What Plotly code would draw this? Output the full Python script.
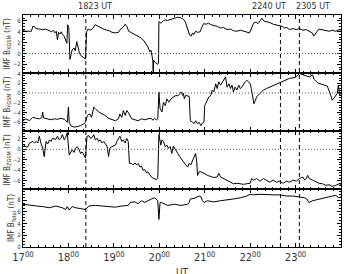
import plotly.graph_objects as go
from plotly.subplots import make_subplots

# time in minutes after 17:00 UT
bx_t = [0, 4, 11, 13, 15, 17, 22, 26, 30, 35, 38, 40, 42, 44, 45.5, 47, 49, 50.5, 52, 54, 56.5, 58, 59, 60.5, 62, 63.5, 65, 67.5, 69, 71, 72.5, 74.5, 76.5, 78.5, 81, 82.5, 84, 86, 89, 92, 95.5, 99, 102.5, 106.5, 110.5, 114, 117.5, 122, 126, 129, 132, 135, 137.5, 139.5, 142.5, 146, 149.5, 153, 156.5, 160, 163, 165, 167.5, 169, 170.5, 171.5, 172, 172.5, 174, 176, 178, 179, 179.5, 182, 185, 188, 191, 195.5, 200, 204.5, 208.5, 212, 214.5, 216, 218, 220, 222, 224, 225.5, 228, 230.5, 234, 236, 238.5, 242, 245, 248.5, 252, 256.5, 261, 265, 269.5, 274, 278, 282.5, 287, 291, 295.5, 299, 302, 304.5, 308, 310.5, 314, 315.5, 318, 321.5, 326, 330.5, 335, 339, 342.5, 345.5, 348.5, 352, 356.5, 361, 365, 369.5, 374, 378, 382, 384, 386, 388, 391, 395.5, 400, 404.5, 408.5, 413, 417.5, 420]
bx_v = [4.2, 4.1, 4.1, 5.0, 5.0, 4.6, 4.5, 4.4, 4.5, 4.2, 4.0, 4.3, 3.8, 4.1, 2.5, 3.9, 3.6, 4.0, 3.5, 3.3, 2.2, 1.9, 5.3, 4.8, -1.1, -0.2, 0.7, 1.0, 0.5, 2.2, 1.0, 0.1, -0.4, -0.6, -0.8, -1.0, 4.0, 4.5, 4.3, 4.6, 5.3, 5.0, 4.7, 4.5, 4.3, 4.2, 3.9, 3.8, 3.9, 4.5, 4.8, 5.4, 4.9, 4.1, 3.9, 3.6, 3.4, 3.1, 2.8, 2.3, 1.7, 1.2, 0.3, 0.6, -0.5, -1.4, -4.5, -1.2, -1.6, -1.9, -2.0, -1.8, 5.9, 5.6, 6.0, 6.2, 6.1, 6.3, 6.5, 6.7, 6.6, 6.3, 5.8, 5.0, 4.2, 3.4, 3.2, 3.8, 3.5, 4.1, 3.9, 4.0, 4.8, 5.5, 5.4, 5.6, 5.3, 5.2, 5.0, 4.7, 4.8, 4.4, 4.5, 4.2, 4.1, 4.3, 4.1, 4.0, 3.8, 4.7, 5.6, 5.8, 5.5, 6.2, 6.5, 6.0, 5.9, 5.7, 5.4, 5.3, 5.1, 5.0, 4.7, 4.8, 4.4, 4.6, 4.4, 4.6, 4.3, 4.4, 4.1, 3.8, 3.2, 3.5, 4.0, 4.5, 4.4, 4.3, 4.1, 4.3, 4.1, 4.4, 4.3]

by_t = [0, 4, 8.5, 13, 17.5, 22, 25, 26, 27, 32.5, 37, 41.5, 45.5, 50, 54.5, 56.5, 58.5, 60, 61, 63, 67.5, 71.5, 76, 80.5, 82.5, 85, 88, 90.5, 93.5, 95.5, 100, 104.5, 108.5, 113, 117.5, 122, 126, 128, 130.5, 132.5, 135, 137, 139, 141.5, 143.5, 148, 152, 156.5, 161, 165, 169.5, 171.5, 174, 176, 178, 179.5, 181, 183.5, 185.5, 188, 190, 192.5, 195.5, 199, 202, 204.5, 207.5, 209, 211, 212, 213, 215, 219.5, 221, 224, 226, 228, 230.5, 232.5, 235, 237, 239, 240, 243.5, 245.5, 248, 250, 252, 254.5, 256.5, 258.5, 261, 265, 267.5, 269.5, 272, 274, 276, 278, 280, 282.5, 285, 287, 289, 293.5, 295.5, 298, 300, 301.5, 303.5, 305, 307, 308.5, 313, 317.5, 321.5, 326, 330.5, 335, 339, 343.5, 348, 352, 356.5, 361, 365, 369.5, 374, 378, 382.5, 384.5, 389, 393.5, 398, 402, 406.5, 408.5, 411, 413, 415, 416.5, 418, 420]
by_v = [-5.7, -5.3, -5.7, -5.0, -5.2, -5.3, -5.0, -3.9, -5.1, -5.3, -5.5, -5.3, -5.4, -5.2, -5.4, -5.7, -6.0, -2.9, -6.0, -6.7, -7.0, -6.9, -6.7, -6.3, -6.0, -4.6, -4.3, -5.0, -2.9, -3.2, -3.9, -4.3, -4.6, -5.2, -5.4, -5.7, -5.3, -4.3, -5.0, -3.6, -4.6, -3.6, -4.0, -4.6, -5.3, -5.5, -5.7, -5.3, -5.5, -5.3, -5.2, -5.6, -5.2, -5.5, -5.3, 0.2, -3.2, -3.9, -1.9, -2.6, -1.2, -1.9, -1.2, -0.8, -0.5, -0.6, -0.1, 0.2, -0.5, -0.1, -1.2, -0.5, -0.7, -5.7, -6.0, -6.3, -5.7, -6.3, -6.0, -6.7, -6.2, -6.0, -2.6, -1.5, -0.8, -0.5, 0.6, 0.2, 1.9, 0.9, 2.3, 1.6, 2.6, 3.3, 1.2, 1.9, 0.9, 1.6, 0.2, 1.2, 0.6, 1.6, 0.9, 1.2, 2.3, 2.6, 2.3, 1.9, 0.9, -1.2, -2.2, -1.5, -0.8, -0.1, 0.6, 0.9, 1.2, 1.4, 1.7, 2.1, 2.3, 2.6, 3.0, 3.1, 3.3, 4.0, 3.8, 3.5, 3.3, 3.7, 2.8, 2.1, 1.9, 1.6, 1.4, -0.5, -1.5, -1.0, -0.6, -0.1, 1.6, -0.5, 0.2]

bz_t = [0, 2, 4, 6.5, 8.5, 13, 15, 17.5, 19.5, 21.5, 24, 26, 28, 29.5, 30.5, 32.5, 35, 37, 39, 43.5, 45.5, 48, 50, 52, 54.5, 56.5, 58.5, 61, 63, 65, 67.5, 69.5, 71.5, 74, 76, 78, 80.5, 82.5, 84.5, 87, 89, 91.5, 93.5, 95.5, 98, 100, 102, 104.5, 106.5, 108.5, 111, 113, 114.5, 117.5, 122, 124, 126, 128, 130.5, 132.5, 135, 137, 139, 140.5, 143.5, 145.5, 148, 150, 152, 154.5, 156.5, 158.5, 161, 163, 165, 167.5, 169.5, 171.5, 174, 176, 178, 179.5, 182, 183.5, 185.5, 188, 190, 192, 194.5, 196.5, 198.5, 201, 204.5, 206.5, 208.5, 211, 213, 215, 217.5, 219.5, 221.5, 224, 226, 228, 229.5, 230.5, 232.5, 235, 239, 243.5, 248, 252, 256.5, 258.5, 261, 265, 269.5, 274, 278, 282.5, 287, 291, 295.5, 300, 302, 304.5, 308.5, 313, 317.5, 321.5, 326, 330.5, 335, 339, 343.5, 348, 352, 356.5, 361, 365, 369.5, 372, 374, 376, 378, 382.5, 387, 391, 395.5, 400, 404.5, 408.5, 413, 417.5, 420]
bz_v = [0.5, 0.8, 0.4, 0.5, 1.2, 1.5, 1.2, 1.5, 1.2, 2.5, 1.0, 0.3, -1.4, 1.0, 1.5, 1.0, 1.8, 1.5, 2.1, 1.9, 2.5, 1.8, 2.1, 2.8, 1.8, 2.3, 3.2, -1.1, -0.5, -0.1, -0.6, 0.2, 0.5, 0.0, -0.8, -0.5, -1.1, -1.7, 2.5, 2.6, 2.1, 2.3, 2.8, 1.8, 2.1, 1.5, 1.8, 1.2, 1.5, 1.0, 0.6, -1.4, 0.2, 0.5, 0.8, 1.5, 2.1, 2.5, 1.5, 1.8, 1.2, 2.1, 1.5, -2.7, -2.7, -3.0, -2.6, -3.0, -2.7, -3.4, -3.2, -4.0, -3.9, -4.5, -4.3, -5.0, -5.3, -5.5, -5.6, -5.8, -5.6, 2.8, 0.8, 1.8, 1.5, 0.5, 0.8, 0.2, 0.5, -0.8, 0.6, -0.1, -0.8, -1.3, -1.7, -2.4, -2.7, -3.0, -3.4, -2.7, -3.0, -2.1, -1.4, -0.8, -2.4, -5.0, -4.3, -4.3, -4.6, -5.0, -5.2, -5.4, -5.3, -4.6, -5.3, -5.6, -5.9, -6.3, -6.6, -6.5, -6.6, -6.7, -6.6, -6.5, -5.6, -5.9, -5.6, -6.1, -5.6, -5.9, -6.3, -5.9, -6.3, -6.1, -6.5, -6.1, -6.3, -5.9, -6.1, -5.6, -5.3, -5.9, -5.6, -5.0, -5.6, -5.9, -6.3, -6.5, -6.6, -6.9, -6.8, -7.1, -6.9, -6.6, -6.7]

bt_t = [0, 8.5, 17.5, 26, 35, 43.5, 52, 56.5, 58.5, 61, 65, 69.5, 76, 82.5, 87, 95.5, 104.5, 113, 122, 130.5, 139, 141.5, 148, 152, 156.5, 161, 165, 169.5, 174, 176, 178, 179.5, 181, 182.5, 187, 191, 200, 208.5, 217.5, 219.5, 221, 226, 232.5, 235, 237, 239, 243.5, 252, 261, 269.5, 278, 287, 295.5, 300, 304.5, 313, 321.5, 330.5, 339, 348, 356.5, 365, 372, 375, 377.5, 382.5, 391, 400, 408.5, 413, 417.5, 420]
bt_v = [7.3, 7.1, 7.0, 6.9, 6.7, 7.0, 6.7, 6.4, 6.9, 6.3, 6.9, 6.7, 6.5, 6.4, 7.0, 7.1, 7.0, 6.9, 6.8, 7.0, 7.1, 7.6, 7.7, 7.4, 7.9, 7.6, 7.9, 8.2, 8.4, 8.2, 7.9, 4.7, 7.6, 7.6, 7.3, 7.1, 7.3, 7.1, 7.3, 7.6, 8.2, 8.3, 8.7, 8.6, 7.9, 7.6, 7.9, 7.7, 7.9, 8.0, 8.2, 8.4, 8.7, 9.0, 8.9, 9.0, 8.9, 8.9, 8.9, 8.7, 8.7, 8.6, 8.4, 8.2, 7.6, 7.9, 8.2, 8.4, 8.7, 8.8, 8.4, 8.6]

event_t = [83, 340, 365]
event_labels = ["1823 UT", "2240 UT", "2305 UT"]
event_label_x = [95, 325, 383]

hour_vals = [0, 60, 120, 180, 240, 300, 360, 420]
hour_text = ["17<sup>00</sup>", "18<sup>00</sup>", "19<sup>00</sup>", "20<sup>00</sup>",
             "21<sup>00</sup>", "22<sup>00</sup>", "23<sup>00</sup>", "00<sup>00</sup>"]

ytitles = ["IMF B<sub>XGSM</sub> (nT)", "IMF B<sub>YGSM</sub> (nT)",
           "IMF B<sub>ZGSM</sub> (nT)", "IMF B<sub>Total</sub> (nT)"]
yranges = [[-3.6, 7.1], [-7.8, 4.1], [-7.6, 3.5], [0, 9.9]]
ydticks = [2, 2, 2, 2]

FONT = "Liberation Sans Narrow, DejaVu Sans Condensed, Arial Narrow, sans-serif"
GRAY = "#333333"

fig = make_subplots(rows=4, cols=1, shared_xaxes=True, vertical_spacing=0)
series = [(bx_t, bx_v), (by_t, by_v), (bz_t, bz_v), (bt_t, bt_v)]
for i, (t, v) in enumerate(series):
    fig.add_trace(go.Scatter(x=t, y=v, mode="lines",
                             line=dict(color="black", width=1),
                             showlegend=False, hoverinfo="skip"), row=i + 1, col=1)

for i in range(4):
    fig.update_yaxes(row=i + 1, col=1, range=yranges[i], dtick=ydticks[i],
                     showline=True, linecolor="black", linewidth=1, mirror="ticks",
                     ticks="inside", ticklen=4, tickcolor="black",
                     minor=dict(dtick=0.5, ticklen=2, ticks="inside", tickcolor="black"),
                     showgrid=False, zeroline=False,
                     tickfont=dict(size=6, color=GRAY, family=FONT),
                     title=dict(text=ytitles[i], standoff=1,
                                font=dict(size=8, color=GRAY, family=FONT)))
    fig.update_xaxes(row=i + 1, col=1, range=[0, 420], tickvals=hour_vals,
                     ticktext=hour_text if i == 3 else None,
                     showticklabels=(i == 3),
                     showline=True, linecolor="black", linewidth=1, mirror="ticks",
                     ticks="inside", ticklen=4, tickcolor="black",
                     minor=dict(dtick=10, ticklen=2, ticks="inside", tickcolor="black"),
                     showgrid=False, zeroline=False,
                     tickfont=dict(size=11, color=GRAY, family=FONT))
    if i < 3:
        fig.add_hline(y=0, row=i + 1, col=1,
                      line=dict(color="#555555", width=1, dash="1px,2px"))

for t in event_t:
    fig.add_shape(type="line", xref="x", yref="paper", x0=t, x1=t, y0=0, y1=1,
                  line=dict(color="black", width=1, dash="4px,3px"))

for lx, lab in zip(event_label_x, event_labels):
    fig.add_annotation(x=lx, y=1.0, xref="x", yref="paper", yanchor="bottom", yshift=2,
                       text=lab, showarrow=False,
                       font=dict(size=9, color=GRAY, family=FONT))

fig.add_annotation(x=0.5, y=0, xref="paper", yref="paper", yanchor="top", yshift=-18,
                   text="UT", showarrow=False, font=dict(size=10, color=GRAY, family=FONT))

fig.update_layout(width=348, height=274, margin=dict(l=20, r=6, t=15, b=27),
                  paper_bgcolor="white", plot_bgcolor="white")

fig.write_html("out.html")
